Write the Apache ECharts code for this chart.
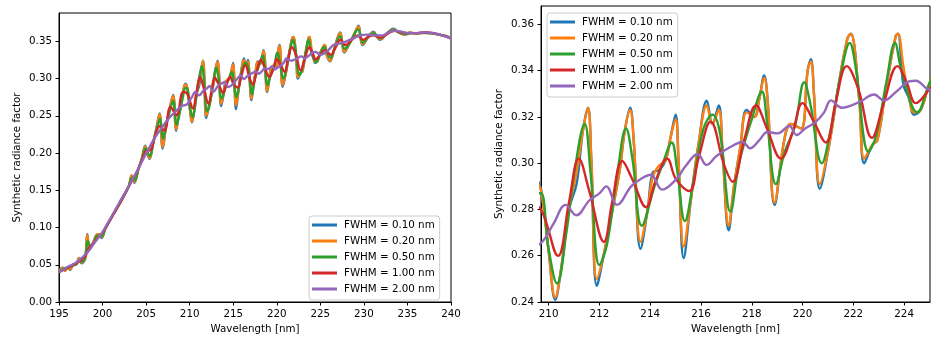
<!DOCTYPE html>
<html><head><meta charset="utf-8">
<script src="https://cdn.jsdelivr.net/npm/echarts@6/dist/echarts.min.js"></script>
<style>html,body{margin:0;padding:0;background:#fff}#c{width:931px;height:339px}</style>
</head><body><div id="c"></div>
<script>
const seriesNames = ['FWHM = 0.10 nm','FWHM = 0.20 nm','FWHM = 0.50 nm','FWHM = 1.00 nm','FWHM = 2.00 nm'];
const seriesColors = ['#1f77b4','#ff7f0e','#2ca02c','#d62728','#9467bd'];

const leftXTicks = [195,200,205,210,215,220,225,230,235,240];
const leftYTicks = [0,0.05,0.10,0.15,0.20,0.25,0.30,0.35];
const rightXTicks = [210,212,214,216,218,220,222,224];
const rightYTicks = [0.24,0.26,0.28,0.30,0.32,0.34,0.36];

// wavelength grid shared by FWHM 0.10 and 0.20
const wlFine = [195.0,195.4,195.7,196.0,196.3,196.6,197.0,197.3,197.6,198.0,198.25,198.5,198.9,199.3,199.6,199.9,200.3,201.0,202.0,203.0,203.35,203.65,204.1,204.5,204.9,205.15,205.4,205.8,206.2,206.55,206.9,207.3,207.7,208.1,208.45,208.8,209.2,209.5,209.7,210.0,210.26,210.5,210.8,211.1,211.35,211.55,211.68,211.9,212.2,212.5,212.8,213.0,213.21,213.35,213.62,213.9,214.1,214.35,214.6,214.8,215.0,215.12,215.32,215.6,215.9,216.23,216.45,216.7,216.85,217.09,217.3,217.55,217.8,218.1,218.3,218.49,218.62,218.9,219.28,219.54,219.94,220.2,220.33,220.45,220.68,221.05,221.44,221.77,221.9,222.23,222.43,222.75,222.95,223.28,223.67,223.76,223.97,224.2,224.39,224.65,225.02,225.5,225.75,226.1,226.6,227.28,227.5,227.74,228.3,228.9,229.39,229.6,229.85,230.5,231.1,231.5,231.88,232.6,233.4,234.0,234.75,235.3,236.0,236.7,237.5,238.3,239.0,239.5,240.0];
const valFwhm010 = [0.040,0.046,0.042,0.047,0.043,0.050,0.051,0.059,0.052,0.058,0.091,0.072,0.079,0.090,0.091,0.086,0.098,0.113,0.133,0.155,0.170,0.160,0.178,0.192,0.210,0.199,0.192,0.213,0.234,0.253,0.206,0.237,0.259,0.278,0.230,0.256,0.279,0.293,0.289,0.262,0.241,0.255,0.280,0.291,0.314,0.324,0.302,0.247,0.262,0.279,0.297,0.314,0.324,0.310,0.263,0.280,0.296,0.297,0.301,0.311,0.321,0.300,0.259,0.284,0.308,0.327,0.317,0.325,0.305,0.271,0.290,0.307,0.323,0.320,0.328,0.338,0.328,0.282,0.310,0.317,0.315,0.340,0.345,0.330,0.289,0.308,0.335,0.354,0.356,0.328,0.300,0.308,0.310,0.332,0.355,0.356,0.334,0.328,0.321,0.323,0.335,0.345,0.331,0.323,0.340,0.362,0.350,0.335,0.346,0.360,0.371,0.356,0.345,0.356,0.363,0.356,0.352,0.360,0.367,0.362,0.359,0.362,0.360,0.362,0.361,0.360,0.358,0.357,0.354];
const valFwhm020 = [0.040,0.046,0.042,0.047,0.044,0.050,0.051,0.059,0.053,0.058,0.090,0.073,0.079,0.090,0.091,0.087,0.098,0.113,0.133,0.155,0.170,0.161,0.178,0.192,0.209,0.199,0.193,0.213,0.234,0.252,0.208,0.237,0.259,0.277,0.232,0.256,0.279,0.292,0.288,0.262,0.242,0.255,0.280,0.296,0.314,0.324,0.302,0.250,0.262,0.279,0.297,0.314,0.323,0.310,0.266,0.280,0.294,0.299,0.301,0.311,0.319,0.300,0.264,0.284,0.308,0.325,0.317,0.323,0.305,0.273,0.290,0.307,0.322,0.320,0.328,0.337,0.328,0.283,0.310,0.317,0.315,0.340,0.344,0.330,0.291,0.308,0.335,0.354,0.356,0.328,0.302,0.308,0.310,0.332,0.355,0.356,0.342,0.328,0.322,0.323,0.335,0.345,0.331,0.324,0.340,0.361,0.350,0.336,0.346,0.360,0.370,0.356,0.346,0.356,0.362,0.356,0.353,0.360,0.366,0.362,0.359,0.362,0.360,0.362,0.361,0.360,0.358,0.357,0.354];

const wlFwhm050 = [195.0,195.5,196.0,196.6,197.0,197.3,197.6,198.0,198.3,198.6,199.0,199.4,199.9,200.3,201.0,202.0,203.0,203.4,203.7,204.1,204.6,204.95,205.4,205.8,206.2,206.6,206.95,207.3,207.7,208.1,208.5,208.9,209.2,209.5,209.7,210.0,210.33,210.7,211.0,211.42,211.65,212.0,212.3,212.7,213.05,213.3,213.67,214.17,214.5,214.85,215.05,215.37,215.7,216.1,216.46,216.75,217.16,217.5,218.0,218.4,218.6,218.95,219.3,219.7,220.07,220.3,220.76,221.1,221.5,221.86,222.1,222.6,222.9,223.3,223.64,223.9,224.52,225.02,225.45,225.9,226.2,226.7,227.25,227.8,228.4,229.35,229.9,230.5,231.1,231.9,232.6,233.4,234.2,234.8,235.5,236.5,237.5,238.5,239.3,240.0];
const valFwhm050 = [0.040,0.045,0.046,0.049,0.051,0.056,0.054,0.060,0.082,0.075,0.080,0.089,0.088,0.098,0.113,0.133,0.155,0.167,0.163,0.178,0.195,0.206,0.196,0.212,0.232,0.246,0.219,0.238,0.256,0.270,0.238,0.256,0.274,0.287,0.287,0.263,0.248,0.270,0.295,0.317,0.296,0.256,0.265,0.295,0.315,0.302,0.273,0.290,0.300,0.309,0.298,0.275,0.292,0.315,0.321,0.313,0.279,0.300,0.319,0.331,0.318,0.291,0.305,0.316,0.335,0.326,0.300,0.314,0.338,0.352,0.341,0.305,0.312,0.335,0.352,0.340,0.322,0.335,0.342,0.331,0.328,0.343,0.357,0.340,0.348,0.366,0.348,0.356,0.361,0.354,0.360,0.365,0.361,0.360,0.361,0.361,0.361,0.359,0.357,0.354];

const wlFwhm100 = [195.0,196.0,197.0,198.0,198.4,198.9,199.5,200.0,201.0,202.0,203.0,204.0,204.6,205.0,205.5,206.0,206.55,207.1,207.8,208.5,209.25,209.7,210.37,210.8,211.19,211.6,212.18,212.5,212.9,213.3,213.84,214.2,214.67,215.02,215.54,215.9,216.38,216.92,217.25,217.7,218.17,218.6,219.15,219.6,220.0,220.4,220.92,221.3,221.74,222.2,222.73,223.2,223.74,224.1,224.46,225.0,225.5,226.2,226.8,227.3,227.9,228.6,229.3,229.9,230.5,231.1,231.9,232.7,233.5,234.3,235.2,236.3,237.3,238.3,239.3,240.0];
const valFwhm100 = [0.040,0.046,0.052,0.061,0.072,0.078,0.087,0.093,0.113,0.133,0.155,0.176,0.193,0.203,0.204,0.222,0.236,0.230,0.262,0.251,0.282,0.280,0.260,0.283,0.302,0.288,0.266,0.283,0.301,0.293,0.281,0.292,0.302,0.293,0.288,0.302,0.318,0.299,0.292,0.310,0.325,0.315,0.302,0.313,0.326,0.319,0.309,0.326,0.342,0.332,0.311,0.326,0.342,0.335,0.326,0.332,0.338,0.332,0.343,0.352,0.345,0.352,0.358,0.352,0.356,0.358,0.355,0.360,0.364,0.362,0.361,0.361,0.362,0.360,0.357,0.354];

const wlFwhm200 = [195.0,196.0,196.84,197.6,198.37,199.1,199.9,200.6,201.43,202.2,202.96,203.7,204.5,205.3,206.03,206.8,207.56,208.3,209.1,209.7,210.2,210.67,211.09,211.61,212.0,212.27,212.69,213.25,213.6,214.02,214.47,215.02,215.41,215.87,216.22,216.6,217.12,217.64,217.93,218.3,218.62,219.02,219.48,219.77,220.1,220.53,220.85,221.12,221.55,222.23,222.82,223.21,223.7,224.2,224.46,225.02,225.5,226.0,226.5,227.2,228.0,228.8,229.6,230.4,231.2,232.2,232.8,233.6,234.3,235.0,236.0,237.0,238.0,239.0,240.0];
const valFwhm200 = [0.040,0.047,0.052,0.059,0.068,0.080,0.092,0.106,0.123,0.139,0.154,0.170,0.188,0.206,0.221,0.234,0.246,0.255,0.263,0.2655,0.274,0.282,0.2775,0.284,0.287,0.290,0.282,0.290,0.293,0.295,0.2886,0.293,0.299,0.304,0.2993,0.303,0.3068,0.3092,0.3065,0.310,0.3135,0.3129,0.3161,0.3122,0.315,0.318,0.322,0.3272,0.324,0.3264,0.3297,0.3272,0.331,0.3354,0.3357,0.3318,0.334,0.339,0.345,0.347,0.350,0.354,0.358,0.359,0.358,0.358,0.362,0.364,0.363,0.361,0.361,0.362,0.361,0.358,0.354];

const seriesWl = [wlFine, wlFine, wlFwhm050, wlFwhm100, wlFwhm200];
const seriesVals = [valFwhm010, valFwhm020, valFwhm050, valFwhm100, valFwhm200];

const FONT = 'DejaVu Sans';
const FS = 10.3;

function xAxisCfg(grid, min, max, ticks) {
  return {
    type: 'value', gridIndex: grid, min: min, max: max,
    name: 'Wavelength [nm]', nameLocation: 'middle', nameGap: 22,
    nameTextStyle: {fontFamily: FONT, fontSize: FS, color: '#000'},
    axisLine: {show: true, onZero: false, lineStyle: {color: '#000', width: 1}},
    axisTick: {show: true, length: 3.5, lineStyle: {color: '#000'}, customValues: ticks},
    axisLabel: {fontFamily: FONT, fontSize: FS, color: '#000', margin: 7, customValues: ticks, formatter: v => String(Math.round(v))},
    splitLine: {show: false}
  };
}
function yAxisCfg(grid, min, max, ticks) {
  return {
    type: 'value', gridIndex: grid, min: min, max: max,
    name: 'Synthetic radiance factor', nameLocation: 'middle', nameGap: 37,
    nameTextStyle: {fontFamily: FONT, fontSize: FS, color: '#000'},
    axisLine: {show: true, onZero: false, lineStyle: {color: '#000', width: 1}},
    axisTick: {show: true, length: 3.5, lineStyle: {color: '#000'}, customValues: ticks},
    axisLabel: {fontFamily: FONT, fontSize: FS, color: '#000', margin: 7, customValues: ticks, formatter: v => v.toFixed(2)},
    splitLine: {show: false}
  };
}
function legendCfg(left, top) {
  return {
    left: left, top: top, orient: 'vertical', data: seriesNames,
    icon: 'rect', itemWidth: 25, itemHeight: 3, itemGap: 0,
    selectedMode: false,
    textStyle: {fontFamily: FONT, fontSize: FS, color: '#000', lineHeight: 16, padding: [0, 0, 0, 2]},
    backgroundColor: 'rgba(255,255,255,0.8)', borderColor: '#cccccc', borderWidth: 1, borderRadius: 3,
    padding: [1, 5, 3, 3]
  };
}

const series = [];
for (let g = 0; g < 2; g++) {
  for (let i = 0; i < 5; i++) {
    series.push({
      type: 'line', name: seriesNames[i], xAxisIndex: g, yAxisIndex: g,
      data: seriesWl[i].map((w, k) => [w, seriesVals[i][k]]),
      showSymbol: false, smooth: 0.4, clip: true,
      lineStyle: {color: seriesColors[i], width: 2.4},
      itemStyle: {color: seriesColors[i]},
      emphasis: {disabled: true}
    });
  }
}

const chart = echarts.init(document.getElementById('c'), null, {renderer: 'canvas'});
chart.setOption({
  animation: false,
  backgroundColor: '#fff',
  grid: [
    {left: 59, top: 13, width: 392, height: 291, show: true, borderColor: '#000', borderWidth: 1, backgroundColor: 'transparent'},
    {left: 541, top: 6, width: 389, height: 298, show: true, borderColor: '#000', borderWidth: 1, backgroundColor: 'transparent'}
  ],
  xAxis: [xAxisCfg(0, 195, 240, leftXTicks), xAxisCfg(1, 209.7, 225.02, rightXTicks)],
  yAxis: [yAxisCfg(0, 0, 0.388, leftYTicks), yAxisCfg(1, 0.24, 0.368, rightYTicks)],
  legend: [legendCfg(309, 216), legendCfg(547, 13)],
  series: series
});
</script>
</body></html>
